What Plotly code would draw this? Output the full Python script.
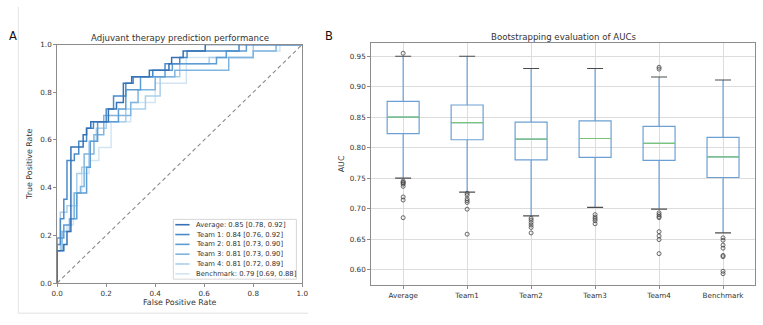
import plotly.graph_objects as go

W, H = 763, 325

# ---------------- Panel A data (ROC) ----------------
roc_names = ["Average: 0.85 [0.78, 0.92]", "Team 1: 0.84 [0.76, 0.92]", "Team 2: 0.81 [0.73, 0.90]",
             "Team 3: 0.81 [0.73, 0.90]", "Team 4: 0.81 [0.72, 0.89]", "Benchmark: 0.79 [0.69, 0.88]"]
roc_colors = ["#3571b5", "#4a8cca", "#5d9dd3", "#7fb5df", "#a9cfeb", "#d3e5f4"]

fpr_avg = [0, 0, 0.027, 0.04, 0.056, 0.106, 0.12, 0.137, 0.209, 0.242, 0.27, 0.304, 0.376, 0.456, 0.467, 0.514, 0.604, 1.0]
tpr_avg = [0, 0.135, 0.162, 0.216, 0.570, 0.622, 0.649, 0.676, 0.730, 0.757, 0.838, 0.865, 0.892, 0.919, 0.946, 0.973, 1.0, 1.0]

fpr_t1 = [0, 0, 0.013, 0.027, 0.04, 0.07, 0.088, 0.12, 0.148, 0.2, 0.23, 0.28, 0.31, 0.39, 0.44, 0.50, 0.53, 0.742, 1.0]
tpr_t1 = [0, 0.162, 0.270, 0.351, 0.514, 0.541, 0.595, 0.649, 0.676, 0.730, 0.784, 0.838, 0.865, 0.892, 0.919, 0.946, 0.973, 1.0, 1.0]

fpr_t2 = [0, 0, 0.027, 0.055, 0.08, 0.12, 0.135, 0.165, 0.25, 0.28, 0.34, 0.44, 0.47, 0.65, 0.69, 0.772, 1.0]
tpr_t2 = [0, 0.189, 0.243, 0.270, 0.378, 0.486, 0.595, 0.676, 0.730, 0.811, 0.865, 0.892, 0.919, 0.946, 0.973, 1.0, 1.0]

fpr_t3 = [0, 0, 0.02, 0.05, 0.07, 0.095, 0.11, 0.15, 0.19, 0.30, 0.33, 0.40, 0.48, 0.70, 0.80, 0.893, 1.0]
tpr_t3 = [0, 0.135, 0.216, 0.270, 0.378, 0.405, 0.541, 0.622, 0.703, 0.757, 0.811, 0.865, 0.892, 0.946, 0.973, 1.0, 1.0]

fpr_t4 = [0, 0, 0.013, 0.04, 0.08, 0.10, 0.13, 0.16, 0.20, 0.28, 0.36, 0.42, 0.50, 0.62, 0.80, 1.0]
tpr_t4 = [0, 0.135, 0.297, 0.324, 0.459, 0.486, 0.595, 0.649, 0.676, 0.730, 0.784, 0.865, 0.919, 0.946, 1.0, 1.0]

fpr_bm = [0, 0, 0.013, 0.04, 0.066, 0.10, 0.13, 0.17, 0.22, 0.30, 0.40, 0.527, 0.80, 0.909, 1.0]
tpr_bm = [0, 0.189, 0.216, 0.243, 0.378, 0.459, 0.514, 0.568, 0.676, 0.757, 0.838, 0.946, 0.973, 1.0, 1.0]

diag = [0, 1]

# ---------------- Panel B data (bootstrap boxes) ----------------
box_labels = ["Average", "Team1", "Team2", "Team3", "Team4", "Benchmark"]
box_q1 = [0.823, 0.813, 0.780, 0.784, 0.779, 0.751]
box_med = [0.850, 0.841, 0.814, 0.815, 0.807, 0.785]
box_q3 = [0.876, 0.870, 0.842, 0.844, 0.835, 0.817]
box_low = [0.750, 0.727, 0.688, 0.702, 0.699, 0.660]
box_high = [0.950, 0.950, 0.930, 0.930, 0.916, 0.911]
box_outliers = [
    [0.955, 0.745, 0.743, 0.742, 0.740, 0.7365, 0.719, 0.714, 0.685],
    [0.725, 0.722, 0.716, 0.713, 0.710, 0.699, 0.658],
    [0.684, 0.681, 0.677, 0.673, 0.669, 0.660],
    [0.690, 0.686, 0.683, 0.680, 0.675],
    [0.932, 0.929, 0.693, 0.690, 0.687, 0.685, 0.662, 0.655, 0.649, 0.626],
    [0.652, 0.648, 0.640, 0.635, 0.623, 0.621, 0.597, 0.593],
]

# ---------------- Figure ----------------
fig = go.Figure()

def px_x(p):
    return p / W

def px_y(p):
    return 1 - p / H

roc_fprs = [fpr_avg, fpr_t1, fpr_t2, fpr_t3, fpr_t4, fpr_bm]
roc_tprs = [tpr_avg, tpr_t1, tpr_t2, tpr_t3, tpr_t4, tpr_bm]
for i in reversed(range(6)):
    fig.add_trace(go.Scatter(x=roc_fprs[i], y=roc_tprs[i], mode="lines", line=dict(color=roc_colors[i], width=1.5, shape="hv"),
                             name=roc_names[i], showlegend=False, xaxis="x", yaxis="y"))
fig.add_trace(go.Scatter(x=diag, y=diag, mode="lines", line=dict(color="#8a8a8a", width=1.1, dash="4px,3px"),
                         showlegend=False, xaxis="x", yaxis="y"))

pos = list(range(len(box_labels)))
box_col = "rgb(108,160,212)"
fig.add_trace(go.Box(x=pos, q1=box_q1, median=box_med, q3=box_q3, lowerfence=box_low, upperfence=box_high,
                     width=0.5, whiskerwidth=0, line=dict(color=box_col, width=1.2), fillcolor="rgba(0,0,0,0)",
                     boxpoints=False, showlegend=False, xaxis="x2", yaxis="y2", hoverinfo="skip"))
# medians and caps
mx, my, cx, cy = [], [], [], []
for i in pos:
    mx += [i - 0.25, i + 0.25, None]
    my += [box_med[i], box_med[i], None]
    cx += [i - 0.125, i + 0.125, None, i - 0.125, i + 0.125, None]
    cy += [box_high[i], box_high[i], None, box_low[i], box_low[i], None]
fig.add_trace(go.Scatter(x=mx, y=my, mode="lines", line=dict(color="rgb(120,196,120)", width=1.2),
                         showlegend=False, xaxis="x2", yaxis="y2"))
fig.add_trace(go.Scatter(x=cx, y=cy, mode="lines", line=dict(color="#4d4d4d", width=1.1),
                         showlegend=False, xaxis="x2", yaxis="y2"))
ox, oy = [], []
for i in pos:
    ox += [i] * len(box_outliers[i])
    oy += box_outliers[i]
fig.add_trace(go.Scatter(x=ox, y=oy, mode="markers",
                         marker=dict(symbol="circle-open", size=4, color="#444444", line=dict(width=0.8)),
                         showlegend=False, xaxis="x2", yaxis="y2"))

font = "DejaVu Sans"
tick_font = dict(family=font, size=7.2, color="#333333")
title_font = dict(family=font, size=7.9, color="#333333")
axcommon = dict(showline=True, linecolor="#8c8c8c", linewidth=1, mirror=True, ticks="outside", ticklen=3,
                tickcolor="#8c8c8c", tickfont=tick_font, zeroline=False)

fig.update_layout(
    width=W, height=H, margin=dict(l=0, r=0, t=0, b=0), paper_bgcolor="white", plot_bgcolor="white",
    showlegend=False,
    xaxis=dict(domain=[px_x(52), px_x(301)], range=[0, 1], tickvals=[0, 0.2, 0.4, 0.6, 0.8, 1.0],
               tickformat=".1f", showgrid=False, anchor="y",
               title=dict(text="False Positive Rate", font=title_font, standoff=1), **axcommon),
    yaxis=dict(domain=[px_y(287), px_y(41.7)], range=[0, 1], tickvals=[0, 0.2, 0.4, 0.6, 0.8, 1.0],
               tickformat=".1f", showgrid=False, anchor="x",
               title=dict(text="True Positive Rate", font=title_font, standoff=6), **axcommon),
    xaxis2=dict(domain=[px_x(371), px_x(761)], range=[-0.5, 5.5], tickvals=pos, ticktext=box_labels,
                showgrid=True, gridcolor="#dcdcdc", anchor="y2", **axcommon),
    yaxis2=dict(domain=[px_y(289), px_y(40)], range=[0.5745, 0.972],
                tickvals=[0.60, 0.65, 0.70, 0.75, 0.80, 0.85, 0.90, 0.95], tickformat=".2f",
                showgrid=True, gridcolor="#dcdcdc", anchor="x2",
                title=dict(text="AUC", font=title_font, standoff=3), **axcommon),
)

ann = [
    dict(text="Adjuvant therapy prediction performance", x=px_x(176.5), y=px_y(34.5), font=dict(family=font, size=8.6, color="#333")),
    dict(text="Bootstrapping evaluation of AUCs", x=px_x(566), y=px_y(33.5), font=dict(family=font, size=8.6, color="#333")),
    dict(text="A", x=px_x(7), y=px_y(33), font=dict(family=font, size=11.5, color="#111")),
    dict(text="B", x=px_x(328.5), y=px_y(33), font=dict(family=font, size=11.5, color="#111")),
]
for a in ann:
    fig.add_annotation(xref="paper", yref="paper", showarrow=False, xanchor="center", yanchor="middle", **a)

# faint outer frame lines of panel A
fig.add_shape(type="line", xref="paper", yref="paper", x0=px_x(12.5), x1=px_x(12.5), y0=px_y(3), y1=px_y(318),
              line=dict(color="#e3e3e3", width=1))
fig.add_shape(type="line", xref="paper", yref="paper", x0=px_x(12.5), x1=px_x(307), y0=px_y(318), y1=px_y(318),
              line=dict(color="#e3e3e3", width=1))

# legend (drawn manually to mimic matplotlib's compact legend)
lx0, lx1, ly0, ly1 = 170, 295, 221.5, 283
fig.add_shape(type="rect", xref="paper", yref="paper", x0=px_x(lx0), x1=px_x(lx1), y0=px_y(ly1), y1=px_y(ly0),
              line=dict(color="#d6d6d6", width=1), fillcolor="rgba(255,255,255,0.85)", layer="above")
for i, nm in enumerate(roc_names):
    yy = 227 + i * 10.1
    fig.add_shape(type="line", xref="paper", yref="paper", x0=px_x(172), x1=px_x(186.5), y0=px_y(yy), y1=px_y(yy),
                  line=dict(color=roc_colors[i], width=1.6), layer="above")
    fig.add_annotation(xref="paper", yref="paper", showarrow=False, xanchor="left", yanchor="middle",
                       x=px_x(191), y=px_y(yy), text=nm, font=dict(family=font, size=6.8, color="#333"))

fig.write_html("out.html")
